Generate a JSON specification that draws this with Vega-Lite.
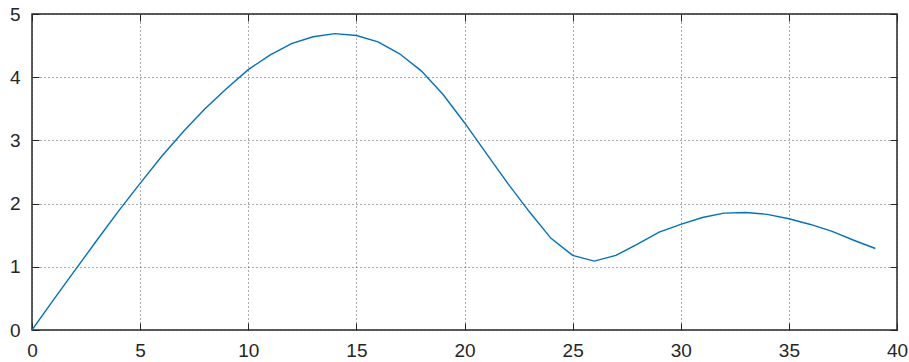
{
  "$schema": "https://vega.github.io/schema/vega-lite/v6.json",
  "width": 865,
  "height": 316,
  "autosize": {"type": "none"},
  "padding": {"left": 32, "top": 14, "right": 12, "bottom": 32},
  "background": "white",
  "config": {
    "view": {"stroke": "#262626", "strokeWidth": 1.5},
    "axis": {
      "labelFont": "Liberation Sans",
      "labelFontSize": 19,
      "labelColor": "#262626",
      "domain": false,
      "tickColor": "#262626",
      "tickSize": -7,
      "tickWidth": 1,
      "gridColor": "#444444",
      "gridDash": [1, 3],
      "gridWidth": 1,
      "gridOpacity": 0.9,
      "title": null
    }
  },
  "data": {
    "values": [
      {"x": 0, "y": 0},
      {"x": 1, "y": 0.48},
      {"x": 2, "y": 0.95},
      {"x": 3, "y": 1.42},
      {"x": 4, "y": 1.88},
      {"x": 5, "y": 2.32},
      {"x": 6, "y": 2.75},
      {"x": 7, "y": 3.14},
      {"x": 8, "y": 3.5},
      {"x": 9, "y": 3.82},
      {"x": 10, "y": 4.12},
      {"x": 11, "y": 4.35},
      {"x": 12, "y": 4.53},
      {"x": 13, "y": 4.64},
      {"x": 14, "y": 4.69},
      {"x": 15, "y": 4.66},
      {"x": 16, "y": 4.56},
      {"x": 17, "y": 4.37},
      {"x": 18, "y": 4.1},
      {"x": 19, "y": 3.73},
      {"x": 20, "y": 3.28},
      {"x": 21, "y": 2.8},
      {"x": 22, "y": 2.32},
      {"x": 23, "y": 1.87},
      {"x": 24, "y": 1.45},
      {"x": 25, "y": 1.18},
      {"x": 26, "y": 1.09},
      {"x": 27, "y": 1.18},
      {"x": 28, "y": 1.36},
      {"x": 29, "y": 1.55},
      {"x": 30, "y": 1.67},
      {"x": 31, "y": 1.78},
      {"x": 32, "y": 1.85},
      {"x": 33, "y": 1.86},
      {"x": 34, "y": 1.83},
      {"x": 35, "y": 1.76},
      {"x": 36, "y": 1.67},
      {"x": 37, "y": 1.56},
      {"x": 38, "y": 1.42},
      {"x": 39, "y": 1.29}
    ]
  },
  "layer": [
    {
      "mark": {"type": "line", "color": "#0072BD", "strokeWidth": 1.4, "clip": true},
      "encoding": {
        "x": {"field": "x", "type": "quantitative", "scale": {"domain": [0, 40], "nice": false, "zero": false},
              "axis": {"orient": "bottom", "values": [0, 5, 10, 15, 20, 25, 30, 35, 40], "grid": true, "labelPadding": 18, "labelFlush": false}},
        "y": {"field": "y", "type": "quantitative", "scale": {"domain": [0, 5], "nice": false, "zero": false},
              "axis": {"orient": "left", "values": [0, 1, 2, 3, 4, 5], "grid": true, "labelPadding": 19, "labelFlush": false}}
      }
    },
    {
      "mark": {"type": "line", "opacity": 0},
      "encoding": {
        "x": {"field": "x", "type": "quantitative", "scale": {"domain": [0, 40], "nice": false, "zero": false},
              "axis": {"orient": "top", "values": [0, 5, 10, 15, 20, 25, 30, 35, 40], "grid": false, "labels": false}},
        "y": {"field": "y", "type": "quantitative", "scale": {"domain": [0, 5], "nice": false, "zero": false},
              "axis": {"orient": "right", "values": [0, 1, 2, 3, 4, 5], "grid": false, "labels": false}}
      }
    }
  ],
  "resolve": {"scale": {"x": "independent", "y": "independent"}, "axis": {"x": "independent", "y": "independent"}}
}
